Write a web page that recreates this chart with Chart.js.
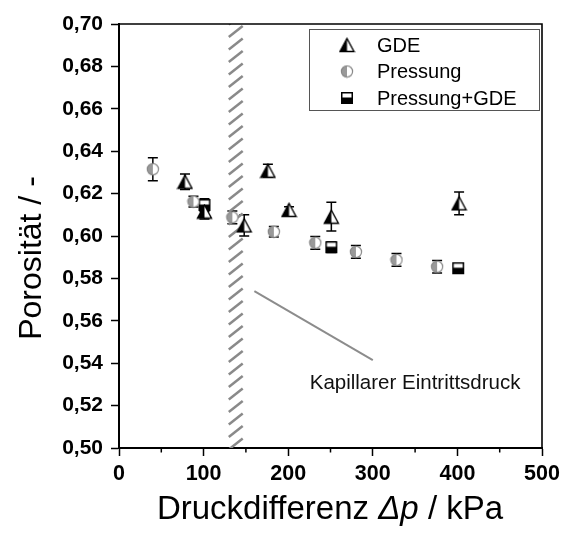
<!DOCTYPE html>
<html>
<head>
<meta charset="utf-8">
<script src="https://cdn.jsdelivr.net/npm/chart.js@4/dist/chart.umd.min.js"></script>
<style>
  html, body { margin: 0; padding: 0; background: #fff; }
  #wrap { width: 565px; height: 538px; }
</style>
</head>
<body>
<div id="wrap"><canvas id="c" width="565" height="538"></canvas></div>
<script>
const FONT = "'Liberation Sans', Arial, Helvetica, sans-serif";

// GDE
const gdeX = [78, 101, 148, 176, 201, 251, 402];
const gdeY = [0.6256, 0.6115, 0.6050, 0.6308, 0.6123, 0.6091, 0.6154];
const gdeErr = [0.0037, 0.0035, 0.0050, 0.0030, 0.0015, 0.0068, 0.0054];

// Pressung
const pressX = [40, 88, 134, 183, 232, 280, 328, 376];
const pressY = [0.6315, 0.6162, 0.6088, 0.6020, 0.5968, 0.5925, 0.5887, 0.5855];
const pressErr = [0.0054, 0.0025, 0.0030, 0.0025, 0.0030, 0.0030, 0.0030, 0.0030];

// Pressung+GDE
const comboX = [101, 251, 401];
const comboY = [0.6146, 0.5947, 0.5848];
const comboErr = [0.0030, 0.0025, 0.0020];

const hatchRange = [128, 148];
const noteLine = [[160, 0.574], [300, 0.5415]];
const notePos = [350, 0.528];
const noteText = "Kapillarer Eintrittsdruck";

function makeCanvas(w, h, draw) {
  const c = document.createElement("canvas");
  c.width = w;
  c.height = h;
  draw(c.getContext("2d"));
  return c;
}

const triangleImg = makeCanvas(17, 16, (g) => {
  g.beginPath();
  g.moveTo(8.5, 1.5); g.lineTo(15.5, 14.5); g.lineTo(1.5, 14.5); g.closePath();
  g.fillStyle = "#fff"; g.fill();
  g.beginPath();
  g.moveTo(8.5, 1.5); g.lineTo(8.5, 14.5); g.lineTo(1.5, 14.5); g.closePath();
  g.fillStyle = "#000"; g.fill();
  g.beginPath();
  g.moveTo(8.5, 1.5); g.lineTo(15.5, 14.5); g.lineTo(1.5, 14.5); g.closePath();
  g.strokeStyle = "#000"; g.lineWidth = 1.4; g.stroke();
});

const circleImg = makeCanvas(14, 14, (g) => {
  g.beginPath(); g.arc(7, 7, 5.6, 0, Math.PI * 2);
  g.fillStyle = "#fff"; g.fill();
  g.beginPath(); g.arc(7, 7, 5.6, Math.PI / 2, Math.PI * 1.5); g.closePath();
  g.fillStyle = "#999"; g.fill();
  g.beginPath(); g.arc(7, 7, 5.6, 0, Math.PI * 2);
  g.strokeStyle = "#888"; g.lineWidth = 1.2; g.stroke();
});

const squareImg = makeCanvas(14, 14, (g) => {
  g.fillStyle = "#000"; g.fillRect(1, 1, 12, 12);
  g.fillStyle = "#fff"; g.fillRect(2.5, 2.5, 9, 4);
});

const toPoints = (xs, ys) => xs.map((x, i) => ({ x, y: ys[i] }));

const errorBars = {
  id: "errorBars",
  beforeDatasetsDraw(chart) {
    const { ctx, scales: { x, y } } = chart;
    ctx.save();
    ctx.strokeStyle = "#000";
    ctx.lineWidth = 1.5;
    chart.data.datasets.forEach((ds) => {
      ds.data.forEach((p, i) => {
        const e = ds.errors[i];
        const px = x.getPixelForValue(p.x);
        const top = y.getPixelForValue(p.y + e);
        const bot = y.getPixelForValue(p.y - e);
        ctx.beginPath();
        ctx.moveTo(px, top); ctx.lineTo(px, bot);
        ctx.moveTo(px - 5, top); ctx.lineTo(px + 5, top);
        ctx.moveTo(px - 5, bot); ctx.lineTo(px + 5, bot);
        ctx.stroke();
      });
    });
    ctx.restore();
  },
};

const decorations = {
  id: "decorations",
  beforeDatasetsDraw(chart) {
    const { ctx, chartArea: a, scales: { x, y } } = chart;
    // hatched band
    const x0 = x.getPixelForValue(hatchRange[0]);
    const x1 = x.getPixelForValue(hatchRange[1]);
    ctx.save();
    ctx.beginPath();
    ctx.rect(x0, a.top, x1 - x0, a.bottom - a.top);
    ctx.clip();
    ctx.strokeStyle = "#8a8a8a";
    ctx.lineWidth = 2.5;
    for (let yy = a.bottom + 14; yy > a.top - 14; yy -= 12.5) {
      ctx.beginPath();
      ctx.moveTo(x0 + 1.5, yy);
      ctx.lineTo(x1 - 1.5, yy - 11);
      ctx.stroke();
    }
    ctx.restore();

    // annotation
    ctx.save();
    ctx.strokeStyle = "#8c8c8c";
    ctx.lineWidth = 2;
    ctx.beginPath();
    ctx.moveTo(x.getPixelForValue(noteLine[0][0]), y.getPixelForValue(noteLine[0][1]));
    ctx.lineTo(x.getPixelForValue(noteLine[1][0]), y.getPixelForValue(noteLine[1][1]));
    ctx.stroke();
    ctx.fillStyle = "#111";
    ctx.font = `20.5px ${FONT}`;
    ctx.textAlign = "center";
    ctx.textBaseline = "alphabetic";
    ctx.fillText(noteText, x.getPixelForValue(notePos[0]), y.getPixelForValue(notePos[1]));
    ctx.restore();
  },
  afterDraw(chart) {
    const { ctx, chartArea: a, scales: { x } } = chart;
    ctx.save();
    // frame top/right
    ctx.strokeStyle = "#000";
    ctx.lineWidth = 1.6;
    ctx.beginPath();
    ctx.moveTo(a.left, a.top); ctx.lineTo(a.right, a.top); ctx.lineTo(a.right, a.bottom);
    ctx.stroke();
    // minor x ticks
    ctx.lineWidth = 1.5;
    for (let v = 50; v < 500; v += 100) {
      const px = x.getPixelForValue(v);
      ctx.beginPath(); ctx.moveTo(px, a.bottom); ctx.lineTo(px, a.bottom + 4.5); ctx.stroke();
    }

    // legend
    const lx = 309, ly = 29, lw = 230, lh = 81;
    ctx.fillStyle = "#fff";
    ctx.fillRect(lx, ly, lw, lh);
    ctx.strokeStyle = "#555";
    ctx.lineWidth = 1;
    ctx.strokeRect(lx + 0.5, ly + 0.5, lw, lh);
    ctx.font = `20px ${FONT}`;
    ctx.fillStyle = "#000";
    ctx.textBaseline = "middle";
    ctx.textAlign = "left";
    chart.data.datasets.forEach((ds, i) => {
      const cy = ly + 16 + i * 26.5;
      const img = ds.pointStyle;
      ctx.drawImage(img, 347 - img.width / 2, cy - img.height / 2);
      ctx.fillText(ds.label, 377, cy + 1);
    });

    // axis titles
    ctx.textBaseline = "alphabetic";
    const parts = [["Druckdifferenz ", "normal"], ["Δp", "italic"], [" / kPa", "normal"]];
    let total = 0;
    parts.forEach((p) => { ctx.font = `${p[1]} 33px ${FONT}`; total += ctx.measureText(p[0]).width; });
    let cx = 330 - total / 2;
    parts.forEach((p) => {
      ctx.font = `${p[1]} 33px ${FONT}`;
      ctx.fillText(p[0], cx, 519);
      cx += ctx.measureText(p[0]).width;
    });
    ctx.translate(41, 258);
    ctx.rotate(-Math.PI / 2);
    ctx.font = `32px ${FONT}`;
    ctx.textAlign = "center";
    ctx.fillText("Porosität / -", 0, 0);
    ctx.restore();
  },
};

new Chart(document.getElementById("c"), {
  type: "scatter",
  data: {
    datasets: [
      { label: "GDE", data: toPoints(gdeX, gdeY), errors: gdeErr, pointStyle: triangleImg },
      { label: "Pressung", data: toPoints(pressX, pressY), errors: pressErr, pointStyle: circleImg },
      { label: "Pressung+GDE", data: toPoints(comboX, comboY), errors: comboErr, pointStyle: squareImg },
    ],
  },
  options: {
    responsive: false,
    animation: false,
    events: [],
    layout: { padding: { top: 24, right: 23, left: 0, bottom: 0 } },
    plugins: { legend: { display: false }, tooltip: { enabled: false } },
    scales: {
      x: {
        type: "linear",
        min: 0,
        max: 500,
        afterFit: (s) => { s.height = 90; },
        border: { color: "#000", width: 2 },
        grid: { drawOnChartArea: false, drawTicks: true, tickLength: 8, tickColor: "#000", tickWidth: 1.5 },
        ticks: { stepSize: 100, color: "#000", padding: 5, maxRotation: 0, font: { family: FONT, size: 21.5, weight: "bold" } },
      },
      y: {
        type: "linear",
        min: 0.5,
        max: 0.7,
        afterFit: (s) => { s.width = 119; },
        border: { color: "#000", width: 2 },
        grid: { drawOnChartArea: false, drawTicks: true, tickLength: 8, tickColor: "#000", tickWidth: 1.5 },
        ticks: {
          stepSize: 0.02,
          color: "#000",
          padding: 8,
          font: { family: FONT, size: 21, weight: "bold" },
          callback: (v) => v.toFixed(2).replace(".", ","),
        },
      },
    },
  },
  plugins: [errorBars, decorations],
});
</script>
</body>
</html>
